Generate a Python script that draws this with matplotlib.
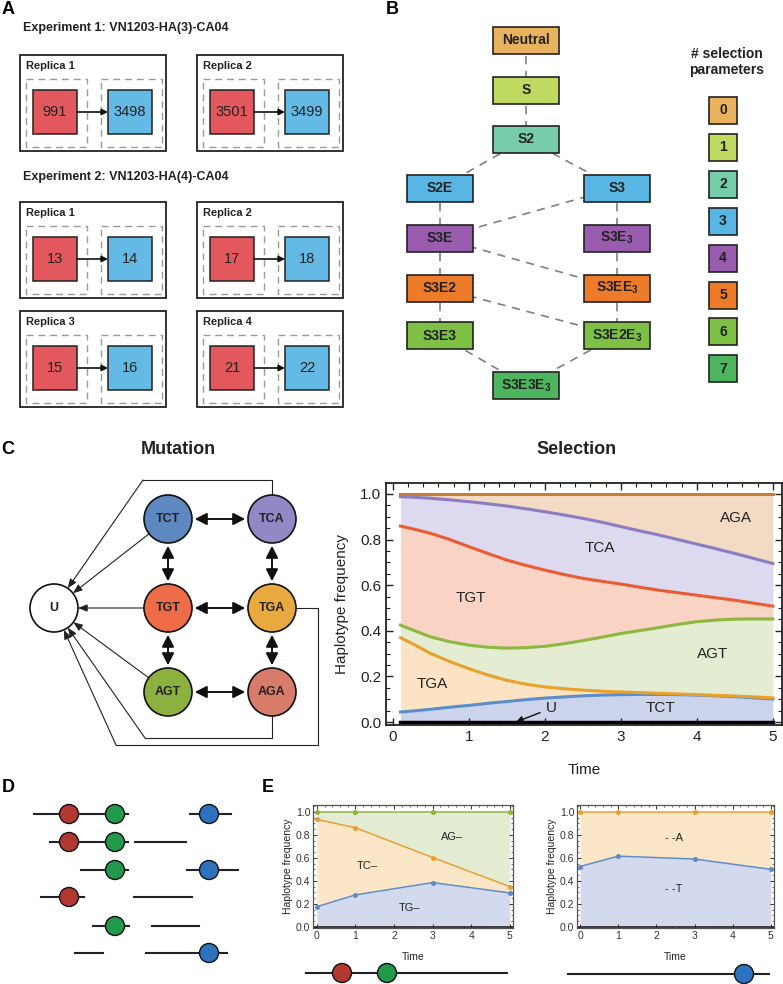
import numpy as np
import matplotlib
matplotlib.use('Agg')
import matplotlib.pyplot as plt
from matplotlib.patches import Rectangle, Circle
from matplotlib.ticker import MultipleLocator

plt.rcParams['font.family'] = ['Liberation Sans', 'DejaVu Sans']
plt.rcParams['mathtext.fontset'] = 'custom'
plt.rcParams['mathtext.rm'] = 'Liberation Sans'
plt.rcParams['mathtext.bf'] = 'Liberation Sans:bold'

# ---------------- data ----------------
exp_titles = ["Experiment 1: VN1203-HA(3)-CA04", "Experiment 2: VN1203-HA(4)-CA04"]
exp1_replicas = ["Replica 1", "Replica 2"]
exp1_start = [991, 3501]
exp1_end = [3498, 3499]
exp2_replicas = ["Replica 1", "Replica 2", "Replica 3", "Replica 4"]
exp2_start = [13, 17, 15, 21]
exp2_end = [14, 18, 16, 22]

model_names = ["Neutral", "S", "S2", "S2E", "S3", "S3E", r"S3E$_\mathbf{3}$", "S3E2",
               r"S3EE$_\mathbf{3}$", "S3E3", r"S3E2E$_\mathbf{3}$", r"S3E3E$_\mathbf{3}$"]
model_nparams = [0, 1, 2, 3, 3, 4, 4, 5, 5, 6, 6, 7]
model_edges = [(0, 1), (1, 2), (2, 3), (2, 4), (3, 5), (4, 5), (4, 6), (5, 7), (5, 8),
               (6, 8), (7, 9), (7, 10), (8, 10), (9, 11), (10, 11)]
param_levels = [0, 1, 2, 3, 4, 5, 6, 7]
param_colors = ['#E8B25E', '#BEDA60', '#76CDA9', '#58B6E4', '#9A5CAE', '#EE7B2A', '#7DC043', '#4DB55E']

node_names = ["TCT", "TCA", "TGT", "TGA", "AGT", "AGA", "U"]
node_colors = ['#5E88C0', '#9189C5', '#EE6B47', '#E8A93E', '#8DB13E', '#D77B6A', '#FFFFFF']
double_edges = [("TCT", "TCA"), ("TGT", "TGA"), ("AGT", "AGA"), ("TCT", "TGT"),
                ("TGT", "AGT"), ("TCA", "TGA"), ("TGA", "AGA")]
direct_to_U = ["TCT", "TGT", "AGT"]

sel_time = [0.1, 0.25, 0.5, 0.75, 1.0, 1.25, 1.5, 1.75, 2.0, 2.25, 2.5, 2.75, 3.0,
            3.25, 3.5, 3.75, 4.0, 4.25, 4.5, 4.75, 5.0]
sel_U = [0.0] * 21
sel_TCT = [0.044, 0.048, 0.056, 0.065, 0.073, 0.082, 0.090, 0.098, 0.105, 0.110, 0.115,
           0.118, 0.120, 0.121, 0.121, 0.120, 0.118, 0.115, 0.111, 0.106, 0.101]
sel_TGA = [0.370, 0.345, 0.300, 0.265, 0.234, 0.206, 0.183, 0.166, 0.154, 0.146, 0.140,
           0.135, 0.132, 0.129, 0.126, 0.123, 0.120, 0.117, 0.114, 0.110, 0.106]
sel_AGT = [0.425, 0.405, 0.373, 0.352, 0.337, 0.328, 0.324, 0.326, 0.332, 0.343, 0.357,
           0.372, 0.388, 0.401, 0.414, 0.428, 0.440, 0.447, 0.451, 0.452, 0.452]
sel_TGT = [0.859, 0.848, 0.827, 0.800, 0.769, 0.739, 0.710, 0.687, 0.666, 0.647, 0.630,
           0.617, 0.605, 0.591, 0.578, 0.567, 0.556, 0.545, 0.534, 0.521, 0.508]
sel_TCA = [0.988, 0.986, 0.981, 0.974, 0.966, 0.957, 0.947, 0.935, 0.922, 0.908, 0.893,
           0.876, 0.857, 0.838, 0.820, 0.800, 0.780, 0.760, 0.739, 0.717, 0.695]
sel_AGA = [1.0] * 21
sel_labels = ["TCT", "TGA", "AGT", "TGT", "TCA", "AGA"]

e_times = [0, 1, 3, 5]
e1_TG = [0.175, 0.278, 0.385, 0.295]
e1_TC = [0.935, 0.862, 0.603, 0.350]
e1_AG = [1.0, 1.0, 1.0, 1.0]
e2_T = [0.525, 0.615, 0.590, 0.500]
e2_A = [1.0, 1.0, 1.0, 1.0]

site_colors = ['#B3382F', '#22994A', '#2B73BF']

# ---------------- figure ----------------
fig = plt.figure(figsize=(7.83, 9.84), dpi=100)
ax0 = fig.add_axes([0, 0, 1, 1])
ax0.set_xlim(0, 783)
ax0.set_ylim(984, 0)
ax0.axis('off')

def letter(x, y, s):
    ax0.text(x, y, s, fontsize=13, fontweight='bold', ha='center', va='center')

# ---------- Panel A ----------
letter(8, 9, "A")
RED, BLUE = '#E2585D', '#62BAE5'

def replica(x0, y0, title, a, b):
    ax0.add_patch(Rectangle((x0, y0), 146, 96, fill=False, lw=1.3, ec='#222'))
    ax0.text(x0 + 6, y0 + 11, title, fontsize=8, fontweight='bold', ha='left', va='center', color='#222')
    for dx in (6, 81):
        ax0.add_patch(Rectangle((x0 + dx, y0 + 24), 61, 68, fill=False, lw=1.0,
                                ec='#9A9A9A', ls=(0, (5, 3.5))))
    ax0.add_patch(Rectangle((x0 + 13, y0 + 35), 44, 44, fc=RED, ec='#222', lw=1.1))
    ax0.add_patch(Rectangle((x0 + 88, y0 + 35), 44, 44, fc=BLUE, ec='#222', lw=1.1))
    ax0.text(x0 + 35, y0 + 57, str(a), fontsize=10.5, ha='center', va='center', color='#222')
    ax0.text(x0 + 110, y0 + 57, str(b), fontsize=10.5, ha='center', va='center', color='#222')
    ax0.annotate('', xy=(x0 + 88, y0 + 57), xytext=(x0 + 57, y0 + 57),
                 arrowprops=dict(arrowstyle='-|>', lw=1.2, color='#111', shrinkA=0, shrinkB=0,
                                 mutation_scale=9))

ax0.text(23, 28, exp_titles[0], fontsize=9, fontweight='bold', ha='left', va='center', color='#222')
ax0.text(23, 177, exp_titles[1], fontsize=9, fontweight='bold', ha='left', va='center', color='#222')
exp1_pos = [(20, 55), (197, 55)]
for (x0, y0), t, a, b in zip(exp1_pos, exp1_replicas, exp1_start, exp1_end):
    replica(x0, y0, t, a, b)
exp2_pos = [(20, 202), (197, 202), (20, 311), (197, 311)]
for (x0, y0), t, a, b in zip(exp2_pos, exp2_replicas, exp2_start, exp2_end):
    replica(x0, y0, t, a, b)

# ---------- Panel B ----------
letter(392, 9, "B")
model_row = [0, 1, 2, 3, 3, 4, 4, 5, 5, 6, 6, 7]
model_col = [1, 1, 1, 0, 2, 0, 2, 0, 2, 0, 2, 1]
col_x = [439.5, 526, 617]
row_y = [40.5, 90.5, 139, 188, 238, 288, 335.5, 385.5]
bw, bh = 66, 27
centers = [(col_x[c], row_y[r]) for r, c in zip(model_row, model_col)]
for i, j in model_edges:
    (x1, y1), (x2, y2) = centers[i], centers[j]
    ax0.plot([x1, x2], [y1, y2], color='#808080', lw=1.2, ls=(0, (5, 4)), zorder=1)
for (cx, cy), name, k in zip(centers, model_names, model_nparams):
    ax0.add_patch(Rectangle((cx - bw / 2, cy - bh / 2), bw, bh, fc=param_colors[k],
                            ec='#222', lw=1.2, zorder=2))
    ax0.text(cx, cy, name, fontsize=10, fontweight='bold', ha='center', va='center',
             color='#222', zorder=3)
ax0.text(727, 62, "# selection\nparameters", fontsize=10, fontweight='bold', ha='center',
         va='center', color='#222', linespacing=1.1)
for lv in param_levels:
    cy = 110.5 + 36.9 * lv
    ax0.add_patch(Rectangle((709, cy - 13.5), 28, 27, fc=param_colors[lv], ec='#222', lw=1.2))
    ax0.text(723, cy, str(lv), fontsize=10, fontweight='bold', ha='center', va='center', color='#222')

# ---------- Panel C: mutation ----------
letter(8, 449, "C")
ax0.text(178, 449, "Mutation", fontsize=13, fontweight='bold', ha='center', va='center', color='#222')
node_xy = {"TCT": (168, 519), "TCA": (272, 519), "TGT": (168, 608), "TGA": (272, 608),
           "AGT": (168, 692), "AGA": (272, 692), "U": (54, 608)}
R = 24
Rpt = R * 72 / 100.0
for a, b in double_edges:
    ax0.annotate('', xy=node_xy[b], xytext=node_xy[a],
                 arrowprops=dict(arrowstyle='<|-|>,head_length=0.55,head_width=0.28', lw=1.4,
                                 color='#111', shrinkA=Rpt + 2, shrinkB=Rpt + 2, mutation_scale=13),
                 zorder=2)
thin = dict(arrowstyle='-|>,head_length=0.5,head_width=0.2', lw=0.8, color='#222',
            mutation_scale=11)
for a in direct_to_U:
    ax0.annotate('', xy=node_xy["U"], xytext=node_xy[a],
                 arrowprops=dict(shrinkA=Rpt, shrinkB=Rpt, **thin), zorder=1)
routes = {"TCA": [(272, 495), (272, 480), (143, 480)],
          "TGA": [(296, 608), (318, 608), (318, 745), (116, 745)],
          "AGA": [(272, 716), (272, 738), (145, 738)]}
for n, pts in routes.items():
    xs, ys = zip(*pts)
    ax0.plot(xs, ys, color='#222', lw=0.8, zorder=1)
    ax0.annotate('', xy=node_xy["U"], xytext=pts[-1],
                 arrowprops=dict(shrinkA=0, shrinkB=Rpt, **thin), zorder=1)
for n, c in zip(node_names, node_colors):
    ax0.add_patch(Circle(node_xy[n], R, fc=c, ec='#111', lw=1.2, zorder=3))
    ax0.text(*node_xy[n], n, fontsize=9, fontweight='bold', ha='center', va='center',
             color='#222', zorder=4)

# ---------- Panel C: selection ----------
ax0.text(577, 449, "Selection", fontsize=13, fontweight='bold', ha='center', va='center', color='#222')
axs = fig.add_axes([386 / 783, 1 - 725 / 984, 396 / 783, 242 / 984])
t = np.array(sel_time)
bounds = [sel_U, sel_TCT, sel_TGA, sel_AGT, sel_TGT, sel_TCA, sel_AGA]
fills = ['#CCD4EC', '#FBE3C4', '#E4ECD2', '#F9D3C3', '#DDD9EF', '#F3DAC5']
lines = ['#5B8DCA', '#E8A12D', '#8DB840', '#EB5B33', '#8C7CC4', '#C97B3A']
for k in range(6):
    axs.fill_between(t, bounds[k], bounds[k + 1], color=fills[k], lw=0)
for k in range(6):
    axs.plot(t, bounds[k + 1], color=lines[k], lw=2.2)
axs.plot(t, sel_U, color='black', lw=2.5)
axs.set_xlim(-0.09, 5.12)
axs.set_ylim(-0.013, 1.048)
axs.xaxis.set_major_locator(MultipleLocator(1))
axs.xaxis.set_minor_locator(MultipleLocator(0.2))
axs.yaxis.set_major_locator(MultipleLocator(0.2))
axs.yaxis.set_minor_locator(MultipleLocator(0.05))
axs.set_yticks([0, 0.2, 0.4, 0.6, 0.8, 1.0])
axs.set_yticklabels(["0.0", "0.2", "0.4", "0.6", "0.8", "1.0"])
axs.tick_params(which='both', direction='in', top=True, right=True, labelsize=11, colors='#222')
axs.tick_params(which='major', length=5, width=1)
axs.tick_params(which='minor', length=3, width=0.8)
for s in axs.spines.values():
    s.set_linewidth(1.3)
    s.set_color('#222')
axs.set_xlabel("Time", fontsize=11, labelpad=14, color='#222')
axs.set_ylabel("Haplotype frequency", fontsize=11, labelpad=8, color='#222')
sel_label_pos = [(3.52, 0.061), (0.52, 0.167), (4.21, 0.298), (1.03, 0.544), (2.72, 0.763), (4.51, 0.895)]
for lab, (x, y) in zip(sel_labels, sel_label_pos):
    axs.text(x, y, lab, fontsize=11, ha='center', va='center', color='#222')
axs.annotate("U", xy=(1.62, 0.0), xytext=(2.08, 0.06), fontsize=11, ha='center', va='center',
             color='#222', arrowprops=dict(arrowstyle='-|>', lw=1.0, color='#111', shrinkA=2,
                                           shrinkB=0, mutation_scale=10))

# ---------- Panel D ----------
letter(8, 788, "D")
site_x = [69, 115, 209]
d_rows_y = [814, 842, 870, 897, 926, 953]
d_segments = [[(34, 128), (190, 231)], [(50, 128), (135, 186)], [(81, 128), (187, 238)],
              [(41, 84), (134, 192)], [(93, 129), (152, 199)], [(75, 103), (146, 227)]]
d_sites = [[0, 1, 2], [0, 1], [1, 2], [0], [1], [2]]
for y, segs, sites in zip(d_rows_y, d_segments, d_sites):
    for x1, x2 in segs:
        ax0.plot([x1, x2], [y, y], color='#222', lw=1.5, zorder=1)
    for s in sites:
        ax0.add_patch(Circle((site_x[s], y), 9.5, fc=site_colors[s], ec='#111', lw=1.0, zorder=2))

# ---------- Panel E ----------
letter(268, 788, "E")
NARROW = ['Liberation Sans Narrow', 'Liberation Sans', 'DejaVu Sans']

def eplot(rect, layers, xlim, labels):
    ax = fig.add_axes(rect)
    tt = np.array(e_times)
    prev = [0.0] * len(e_times)
    for vals, fc, lc in layers:
        ax.fill_between(tt, prev, vals, color=fc, lw=0)
        prev = vals
    for vals, fc, lc in layers:
        ax.plot(tt, vals, color=lc, lw=1.1, marker='o', ms=2.6)
    ax.axhline(0, color='#222', lw=1.2)
    ax.set_xlim(*xlim)
    ax.set_ylim(-0.01, 1.06)
    ax.xaxis.set_major_locator(MultipleLocator(1))
    ax.xaxis.set_minor_locator(MultipleLocator(0.2))
    ax.set_yticks([0, 0.2, 0.4, 0.6, 0.8, 1.0])
    ax.set_yticklabels(["0.0", "0.2", "0.4", "0.6", "0.8", "1.0"])
    ax.yaxis.set_minor_locator(MultipleLocator(0.05))
    ax.tick_params(which='both', direction='in', top=True, right=True, labelsize=7.5,
                   colors='#333', pad=2)
    ax.tick_params(which='major', length=3, width=0.7)
    ax.tick_params(which='minor', length=1.6, width=0.5)
    for lab in ax.get_xticklabels() + ax.get_yticklabels():
        lab.set_family(NARROW)
    for s in ax.spines.values():
        s.set_linewidth(0.9)
        s.set_color('#555')
    ax.set_xlabel("Time", fontsize=7.5, family=NARROW, labelpad=8, color='#222')
    ax.set_ylabel("Haplotype frequency", fontsize=7.5, family=NARROW, labelpad=2, color='#222')
    for s, (x, y) in labels:
        ax.text(x, y, s, fontsize=8, family=NARROW, ha='center', va='center', color='#222')
    return ax

eplot([313 / 783, 1 - 928 / 984, 200 / 783, 123 / 984],
      [(e1_TG, '#D3DAEE', '#5E8CC8'), (e1_TC, '#FBE6C8', '#E8A030'), (e1_AG, '#E3ECD2', '#8CB53C')],
      (-0.1, 5.08), [("AG\u2013", (3.5, 0.78)), ("TC\u2013", (1.3, 0.53)), ("TG\u2013", (2.4, 0.165))])
eplot([577 / 783, 1 - 928 / 984, 197 / 783, 123 / 984],
      [(e2_T, '#D3DAEE', '#5E8CC8'), (e2_A, '#FBE6C8', '#E8A030')],
      (-0.08, 5.08), [("- -A", (2.45, 0.77)), ("- -T", (2.45, 0.33))])

# glyphs under E
ax0.plot([306, 507], [973, 973], color='#222', lw=1.5, zorder=1)
ax0.add_patch(Circle((342, 973), 9.5, fc=site_colors[0], ec='#111', lw=1.0, zorder=2))
ax0.add_patch(Circle((387, 973), 9.5, fc=site_colors[1], ec='#111', lw=1.0, zorder=2))
ax0.plot([568, 769], [974, 974], color='#222', lw=1.5, zorder=1)
ax0.add_patch(Circle((744, 974), 9.5, fc=site_colors[2], ec='#111', lw=1.0, zorder=2))

fig.savefig("out.png", dpi=100)
